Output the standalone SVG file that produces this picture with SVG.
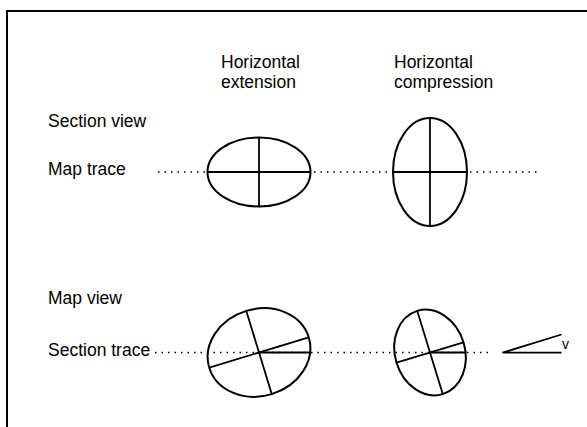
<svg xmlns="http://www.w3.org/2000/svg" width="587" height="427" viewBox="0 0 587 427">
<style>
text{font-family:"Liberation Sans",Arial,sans-serif;font-size:17.5px;fill:#000}
.e{fill:none;stroke:#000;stroke-width:2}
.a{stroke:#000;stroke-width:1.8;fill:none}
.d{stroke:#000;stroke-width:1.3;stroke-dasharray:1.5 5;fill:none}
.b{stroke:#000;stroke-width:2;fill:none}
</style>
<rect width="587" height="427" fill="#fff"/>
<g id="frame">
<line class="b" x1="6" y1="11" x2="587" y2="11"/>
<line class="b" x1="7" y1="10" x2="7" y2="427"/>
</g>
<g id="labels">
<text x="221" y="68">Horizontal</text>
<text x="221" y="88">extension</text>
<text x="394" y="68">Horizontal</text>
<text x="394" y="88">compression</text>
<text x="48" y="127">Section view</text>
<text x="48" y="175">Map trace</text>
<text x="48" y="304">Map view</text>
<text x="48" y="356">Section trace</text>
</g>
<g id="connectors">
<line class="d" x1="158" y1="172" x2="540" y2="172"/>
<line class="d" x1="155" y1="352.5" x2="488" y2="352.5"/>
</g>
<g id="section-extension">
<ellipse class="e" cx="259" cy="172" rx="51.5" ry="34.5"/>
<line class="a" x1="207.5" y1="172" x2="310.5" y2="172"/>
<line class="a" x1="259" y1="137.5" x2="259" y2="206.5"/>
</g>
<g id="section-compression">
<ellipse class="e" cx="430" cy="172" rx="37" ry="54"/>
<line class="a" x1="393" y1="172" x2="467" y2="172"/>
<line class="a" x1="430" y1="118" x2="430" y2="226"/>
</g>
<g id="map-extension">
<g transform="rotate(-17 259 352.5)">
<ellipse class="e" cx="259" cy="352.5" rx="52" ry="43.5"/>
<line class="a" x1="207" y1="352.5" x2="311" y2="352.5"/>
<line class="a" x1="259" y1="309" x2="259" y2="396"/>
</g>
<line class="a" x1="259" y1="352.5" x2="310.5" y2="352.5"/>
</g>
<g id="map-compression">
<g transform="rotate(-17 430 352.5)">
<ellipse class="e" cx="430" cy="352.5" rx="35" ry="43.5"/>
<line class="a" x1="395" y1="352.5" x2="465" y2="352.5"/>
<line class="a" x1="430" y1="309" x2="430" y2="396"/>
</g>
<line class="a" x1="430" y1="352.5" x2="465.5" y2="352.5"/>
</g>
<g id="angle-v">
<polyline class="a" points="561.5,334.5 502.5,352.7 561.5,352.7"/>
<text x="562" y="349" style="font-size:14px">v</text>
</g>
</svg>
